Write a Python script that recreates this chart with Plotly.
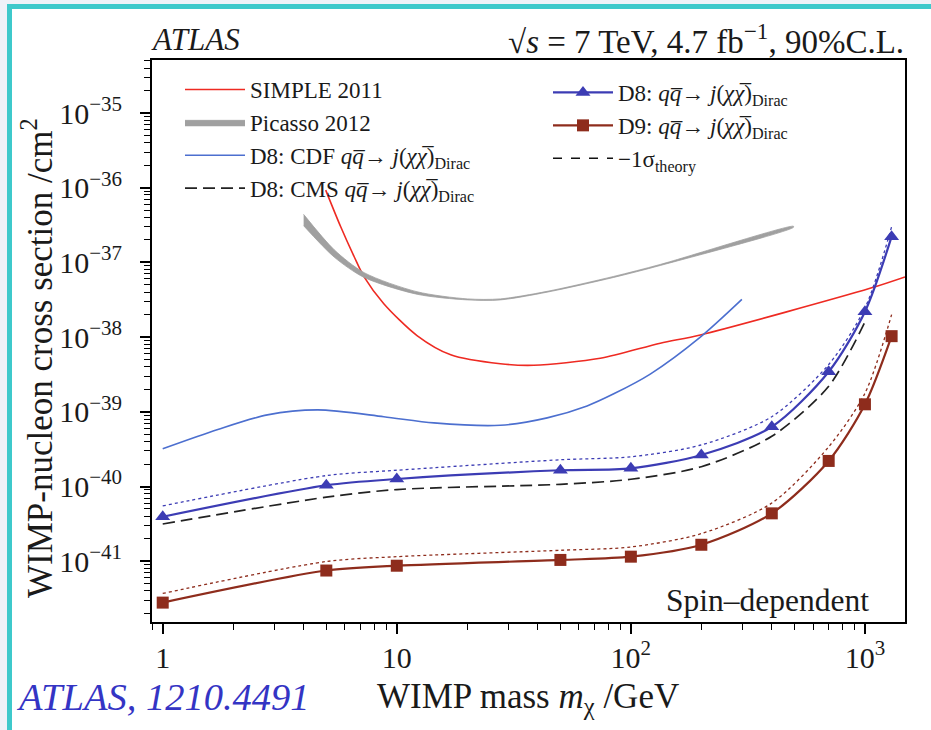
import numpy as np
import plotly.graph_objects as go

# ---------------- data ----------------
# SIMPLE 2011 limit
simple_mass = [4.97, 5.76, 6.57, 7.25, 8.8, 12.2, 17, 27.7, 38.5, 74, 133.6, 198, 1051, 1483]
simple_xsec = [9.3e-37, 3.0e-37, 1.2e-37, 6.4e-38, 2.8e-38, 1.05e-38, 5.8e-39, 4.4e-39,
               4.2e-39, 5.2e-39, 8.3e-39, 1.07e-38, 4.5e-38, 6.4e-38]

# Picasso 2012 band (lower / upper edge)
picasso_mass = [4.0, 5.4, 7.25, 12.2, 20, 27.7, 43.9, 84.5, 133.6, 495]
picasso_low = [3.1e-37, 1.18e-37, 6.3e-38, 3.75e-38, 3.15e-38, 3.15e-38, 4.0e-38, 6.3e-38, 9.1e-38, 2.95e-37]
picasso_high = [4.4e-37, 1.48e-37, 7.3e-38, 4.05e-38, 3.25e-38, 3.25e-38, 4.1e-38, 6.5e-38, 9.4e-38, 3.05e-37]

# D8: CDF
cdf_mass = [1, 1.72, 2.8, 4.6, 8.8, 14.4, 27.7, 43.9, 65, 84.5, 121, 198, 298]
cdf_xsec = [3.2e-40, 5.8e-40, 9.1e-40, 1.06e-39, 8.6e-40, 7.1e-40, 6.6e-40, 8.3e-40,
            1.2e-39, 1.74e-39, 3.2e-39, 1.0e-38, 3.2e-38]

# D8: CMS
cms_mass = [1, 5, 10, 50, 100, 200, 400, 700, 1000]
cms_xsec = [3.15e-41, 7.2e-41, 9.1e-41, 1.07e-40, 1.25e-40, 1.84e-40, 4.7e-40, 2.2e-39, 1.6e-38]

# ATLAS D8 / D9 limits and their -1 sigma (theory) variations
atlas_mass = [1, 5, 10, 50, 100, 200, 400, 700, 1000, 1300]
d8_xsec = [3.94e-41, 1.04e-40, 1.26e-40, 1.65e-40, 1.75e-40, 2.64e-40, 6.3e-40, 3.44e-39, 2.19e-38, 2.21e-37]
d8_minus1 = [5.5e-41, 1.4e-40, 1.65e-40, 2.28e-40, 2.5e-40, 3.6e-40, 8.6e-40, 4.3e-39, 2.45e-38, 3.0e-37]
d9_xsec = [2.79e-42, 7.5e-42, 8.7e-42, 1.04e-41, 1.15e-41, 1.66e-41, 4.37e-41, 2.2e-40, 1.26e-39, 1.03e-38]
d9_minus1 = [3.7e-42, 9.9e-42, 1.15e-41, 1.4e-41, 1.55e-41, 2.34e-41, 6.0e-41, 3.4e-40, 1.77e-39, 2.0e-38]

# axis ticks
x_tickvals = [1, 10, 100, 1000]
x_ticktext = ["1", "10", "10<sup>2</sup>", "10<sup>3</sup>"]
y_exponents = [-41, -40, -39, -38, -37, -36, -35]
y_tickvals = [10.0 ** e for e in y_exponents]
y_ticktext = ["10<sup>\u2212%d</sup>" % (-e) for e in y_exponents]

# ---------------- styling ----------------
SERIF = "Liberation Serif"
INK = "#1a1a1a"
RED = "#ee2a22"
GREY = "#a0a0a0"
CDF_BLUE = "#4c6fcf"
D8_BLUE = "#3c3cb4"
D9_BROWN = "#8e2c1c"
TEAL = "#3ec9cb"

W, H = 931, 730
L, R, T, B = 152, 905, 60, 622  # plot area in pixels


def px_x(p):
    return (p - L) / (R - L)


def px_y(p):
    return (B - p) / (B - T)


qq = "<i>q</i><i>q\u0305</i>"
chi = "<i>j</i>(<i>\u03c7\u03c7\u0305</i>)<sub>Dirac</sub>"

fig = go.Figure()

fig.add_trace(go.Scatter(
    x=simple_mass, y=simple_xsec, mode="lines", name="SIMPLE 2011",
    line=dict(color=RED, width=1.6, shape="spline", smoothing=0.8),
    legend="legend", legendgroup="a"))

fig.add_trace(go.Scatter(
    x=picasso_mass + picasso_mass[::-1], y=picasso_high + picasso_low[::-1],
    mode="lines", fill="toself", fillcolor=GREY, name="Picasso 2012",
    line=dict(color=GREY, width=0.8, shape="spline", smoothing=0.8),
    legend="legend", legendgroup="b"))

fig.add_trace(go.Scatter(
    x=cdf_mass, y=cdf_xsec, mode="lines", name="D8: CDF " + qq + "\u2192 " + chi,
    line=dict(color=CDF_BLUE, width=1.6, shape="spline", smoothing=0.8),
    legend="legend", legendgroup="c"))

fig.add_trace(go.Scatter(
    x=cms_mass, y=cms_xsec, mode="lines", name="D8: CMS " + qq + "\u2192 " + chi,
    line=dict(color="#222222", width=1.7, dash="12px,6px", shape="spline", smoothing=0.8),
    legend="legend", legendgroup="d"))

fig.add_trace(go.Scatter(
    x=atlas_mass, y=d8_minus1, mode="lines", showlegend=False,
    line=dict(color=D8_BLUE, width=1.3, dash="dot", shape="spline", smoothing=0.8)))

fig.add_trace(go.Scatter(
    x=atlas_mass, y=d9_minus1, mode="lines", showlegend=False,
    line=dict(color=D9_BROWN, width=1.3, dash="dot", shape="spline", smoothing=0.8)))

fig.add_trace(go.Scatter(
    x=atlas_mass, y=d8_xsec, mode="lines+markers", name="D8: " + qq + "\u2192 " + chi,
    line=dict(color=D8_BLUE, width=2.2, shape="spline", smoothing=0.8),
    marker=dict(symbol="triangle-up", size=13, color=D8_BLUE),
    legend="legend2", legendgroup="e"))

fig.add_trace(go.Scatter(
    x=atlas_mass, y=d9_xsec, mode="lines+markers", name="D9: " + qq + "\u2192 " + chi,
    line=dict(color=D9_BROWN, width=2.2, shape="spline", smoothing=0.8),
    marker=dict(symbol="square", size=12, color=D9_BROWN),
    legend="legend2", legendgroup="f"))

# legend entry for the -1 sigma theory curves
fig.add_trace(go.Scatter(
    x=[None], y=[None], mode="lines", name="\u22121\u03c3<sub>theory</sub>",
    line=dict(color="#111111", width=1.6, dash="dash"),
    legend="legend2", legendgroup="g"))

axis_common = dict(
    type="log", showgrid=False, zeroline=False,
    showline=True, linecolor="black", linewidth=2, mirror=True,
    ticks="outside", ticklen=10, tickwidth=1.5, tickcolor="black",
    tickfont=dict(family=SERIF, size=30, color=INK),
    minor=dict(ticks="outside", ticklen=6, tickwidth=1.2, tickcolor="black",
               dtick="D1", showgrid=False),
)

fig.update_xaxes(axis_common, range=[np.log10(0.9), np.log10(1483)],
                 tickvals=x_tickvals, ticktext=x_ticktext, ticklabelstandoff=-2)
fig.update_yaxes(axis_common, range=[-41.814, -34.29],
                 tickvals=y_tickvals, ticktext=y_ticktext, ticklabelstandoff=12)

legend_common = dict(
    bgcolor="rgba(0,0,0,0)", borderwidth=0,
    font=dict(family=SERIF, size=23, color=INK),
    itemwidth=60, tracegroupgap=0, xanchor="left", yanchor="top",
    itemclick=False, itemdoubleclick=False,
)

fig.update_layout(
    width=W, height=H, autosize=False,
    margin=dict(l=L, r=W - R, t=T, b=H - B, pad=0),
    paper_bgcolor="#eef2f8", plot_bgcolor="rgba(0,0,0,0)",
    font=dict(family=SERIF, color=INK),
    legend=dict(legend_common, x=px_x(180), y=px_y(68)),
    legend2=dict(legend_common, x=px_x(548), y=px_y(71)),
    shapes=[
        dict(type="rect", xref="paper", yref="paper", layer="below",
             x0=px_x(7), x1=px_x(940), y0=px_y(740), y1=px_y(4),
             fillcolor=TEAL, line=dict(width=0)),
        dict(type="rect", xref="paper", yref="paper", layer="below",
             x0=px_x(12), x1=px_x(940), y0=px_y(740), y1=px_y(9),
             fillcolor="white", line=dict(width=0)),
    ],
    annotations=[
        dict(text="<i>ATLAS</i>", xref="paper", yref="paper", x=px_x(149), y=px_y(39),
             xanchor="left", yanchor="middle", showarrow=False,
             font=dict(family=SERIF, size=31, color=INK)),
        dict(text="\u221a<i>s</i> = 7 TeV, 4.7 fb<sup>\u22121</sup>, 90%C.L.",
             xref="paper", yref="paper", x=px_x(906), y=px_y(39),
             xanchor="right", yanchor="middle", showarrow=False,
             font=dict(family=SERIF, size=33, color=INK)),
        dict(text="Spin\u2013dependent", xref="paper", yref="paper",
             x=px_x(871), y=px_y(600), xanchor="right", yanchor="middle", showarrow=False,
             font=dict(family=SERIF, size=31.5, color=INK)),
        dict(text="WIMP mass <i>m</i><sub>\u03c7</sub> /GeV", xref="paper", yref="paper",
             x=px_x(528), y=px_y(698), xanchor="center", yanchor="middle", showarrow=False,
             font=dict(family=SERIF, size=35, color=INK)),
        dict(text="WIMP-nucleon cross section /cm<sup>2</sup>", xref="paper", yref="paper",
             x=px_x(37), y=px_y(358), xanchor="center", yanchor="middle", showarrow=False,
             textangle=-90, font=dict(family=SERIF, size=35, color=INK)),
        dict(text="<i>ATLAS, 1210.4491</i>", xref="paper", yref="paper",
             x=px_x(14), y=px_y(697), xanchor="left", yanchor="middle", showarrow=False,
             font=dict(family=SERIF, size=38.5, color="#3434c4")),
    ],
)

fig.write_html("out.html")
